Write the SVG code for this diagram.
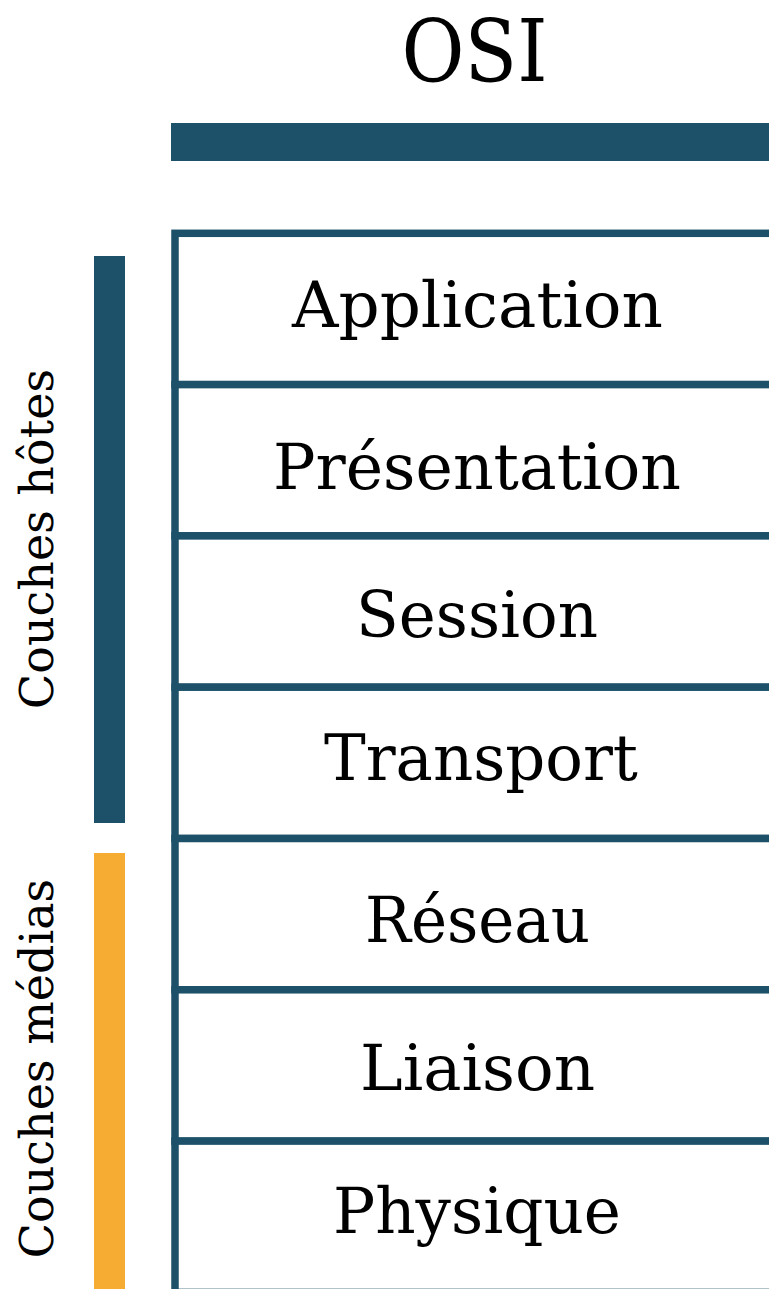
<svg xmlns="http://www.w3.org/2000/svg" width="769" height="1289" viewBox="0 0 769 1289">
  <style>
    .lbl { font-family: "DejaVu Serif", "Liberation Serif", serif; fill: #000; text-anchor: middle; }
    .layer { font-size: 64px; }
    .side { font-size: 46px; }
    .cell { fill: #ffffff; stroke: #1d5169; stroke-width: 7.5; }
    .blue { fill: #1d5169; }
    .orange { fill: #f6ac33; }
  </style>
  <rect x="0" y="0" width="769" height="1289" fill="#ffffff"/>

  <g id="title">
    <text class="lbl" x="474.5" y="81" font-size="86" textLength="146" lengthAdjust="spacingAndGlyphs">OSI</text>
    <rect class="blue" x="171" y="123" width="600" height="38"/>
  </g>

  <g id="hotes">
    <rect class="blue" x="94" y="256" width="31" height="567"/>
    <text class="lbl side" transform="translate(53,539) rotate(-90)">Couches hôtes</text>
  </g>

  <g id="medias">
    <rect class="orange" x="94" y="853" width="31" height="440"/>
    <text class="lbl side" transform="translate(53,1068.5) rotate(-90)">Couches médias</text>
  </g>

  <g id="application">
    <rect class="cell" x="175" y="233.3" width="620" height="151.3"/>
    <text class="lbl layer" x="477.5" y="327" textLength="371" lengthAdjust="spacingAndGlyphs">Application</text>
  </g>
  <g id="presentation">
    <rect class="cell" x="175" y="384.6" width="620" height="151.3"/>
    <text class="lbl layer" x="477" y="489" textLength="408" lengthAdjust="spacingAndGlyphs">Présentation</text>
  </g>
  <g id="session">
    <rect class="cell" x="175" y="535.9" width="620" height="151.3"/>
    <text class="lbl layer" x="477" y="637" textLength="242" lengthAdjust="spacingAndGlyphs">Session</text>
  </g>
  <g id="transport">
    <rect class="cell" x="175" y="687.2" width="620" height="151.3"/>
    <text class="lbl layer" x="481" y="780" textLength="314" lengthAdjust="spacingAndGlyphs">Transport</text>
  </g>
  <g id="reseau">
    <rect class="cell" x="175" y="838.5" width="620" height="151.3"/>
    <text class="lbl layer" x="477.5" y="942" textLength="225" lengthAdjust="spacingAndGlyphs">Réseau</text>
  </g>
  <g id="liaison">
    <rect class="cell" x="175" y="989.8" width="620" height="151.3"/>
    <text class="lbl layer" x="477.5" y="1090" textLength="235" lengthAdjust="spacingAndGlyphs">Liaison</text>
  </g>
  <g id="physique">
    <rect class="cell" x="175" y="1141.1" width="620" height="151.3"/>
    <text class="lbl layer" x="477" y="1233" textLength="288" lengthAdjust="spacingAndGlyphs">Physique</text>
  </g>

  <g id="connectors"/>
</svg>
